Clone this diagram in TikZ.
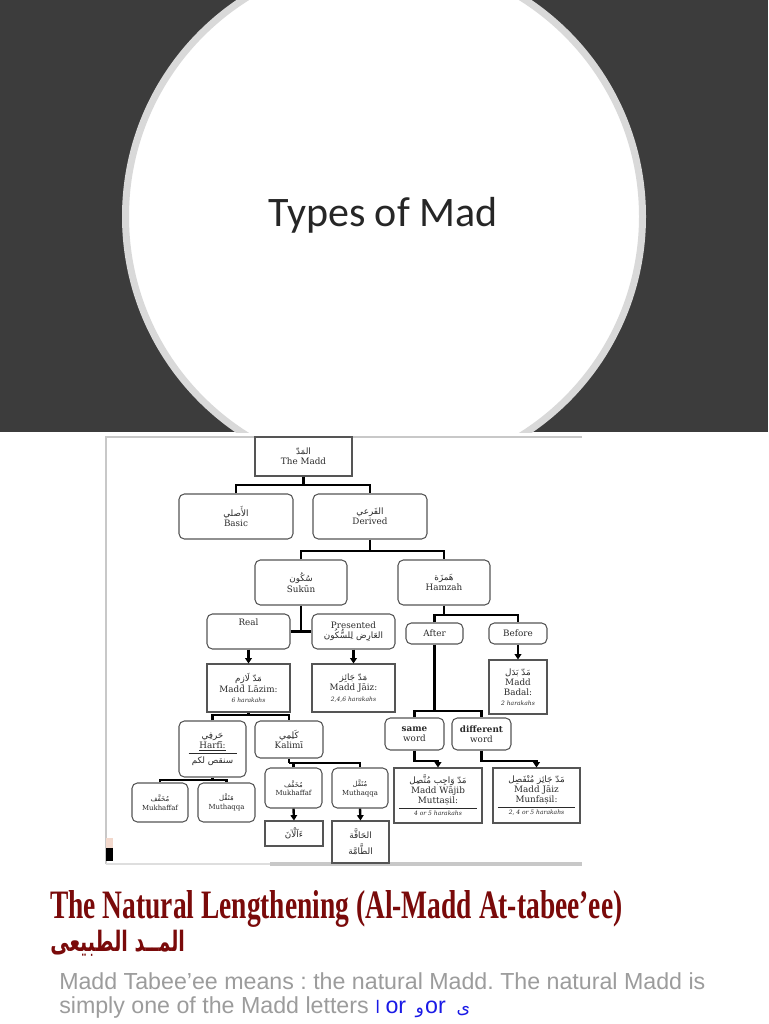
\documentclass[tikz,border=0pt]{standalone}
\usepackage{fontspec}
\usepackage{graphicx}
\usetikzlibrary{arrows.meta,calc}
\TeXXeTstate=1
\newfontfamily\ar[Script=Arabic]{DejaVu Sans}
\newfontfamily\dser{DejaVu Serif}
\newfontfamily\carl{Carlito}
\newfontfamily\lsans{Liberation Sans}
\newfontfamily\tser{Liberation Serif}
\definecolor{bandgray}{HTML}{3C3C3C}
\definecolor{ringgray}{HTML}{D9D9D9}
\definecolor{titlered}{HTML}{7A0A0A}
\definecolor{paragray}{HTML}{9C9C9C}
\definecolor{boxline}{HTML}{555555}
\definecolor{txtgray}{HTML}{2A2A2A}
\definecolor{frame}{HTML}{C8C8C8}
\definecolor{letterblue}{HTML}{1A1AE6}
\definecolor{titleblack}{HTML}{262626}
\definecolor{pinkmark}{HTML}{F2D8CC}
\newcommand{\AR}[1]{{\ar\beginR #1\endR}}
\newcommand{\hk}[1]{{\fontsize{4.5}{5.2}\selectfont\itshape #1}}
\newcommand{\dfont}{\dser\fontsize{6.6}{7.6}\selectfont}
\newcommand{\sfont}{\dser\fontsize{5.2}{6.6}\selectfont}
\tikzset{
  bw/.style={minimum width=#1*0.75pt},
  bh/.style={minimum height=#1*0.75pt},
  rbox/.style={draw=boxline, line width=0.8pt, rounded corners=4pt, fill=white,
    inner sep=0pt, align=center, font=\dfont, text=txtgray},
  sbox/.style={rbox, rounded corners=0pt},
  conn/.style={line width=1.8pt, black},
  arr/.style={conn, -{Triangle[length=4pt,width=5pt]}},
}
\begin{document}
\frenchspacing
\begin{tikzpicture}[x=0.75pt,y=-0.75pt]
\useasboundingbox (0,0) rectangle (768,1024);
\fill[white] (0,0) rectangle (768,1024);
% top band with circle
\begin{scope}
\clip (0,0) rectangle (768,432);
\fill[bandgray] (0,0) rectangle (768,432);
\draw[ringgray, line width=5.25pt, fill=white] (384,216.5) circle (258.5);
\end{scope}
\node[anchor=base, inner sep=0pt, text=titleblack, font=\carl\fontsize{31.5}{36}\selectfont] (typ) at (383,226.7) {Types of Mad};
% diagram frame
\draw[frame, line width=1pt] (106,864) -- (106,437) -- (582,437);
\draw[frame!60, line width=2pt] (106,864) -- (270,864);
\draw[frame, line width=2.5pt] (270,864) -- (582,864);
\fill[pinkmark] (106,838) rectangle (113,848);
\fill[black] (106,848) rectangle (113,861);
% nodes
\node[sbox,bw=97,bh=39] (madd) at (303.5,456.5) {\AR{المَدّ}\\The Madd};
\node[rbox,bw=114,bh=45] (basic) at (236,516.5) {\AR{الأَصلي}\\Basic};
\node[rbox,bw=114,bh=45] (derived) at (370,516.5) {\AR{الفَرعي}\\Derived};
\node[rbox,bw=92,bh=45] (sukun) at (301,582.5) {\AR{سُكُون}\\Sukūn};
\node[rbox,bw=92,bh=45] (hamzah) at (444,582.5) {\AR{هَمزَة}\\Hamzah};
\node[rbox,bw=83,bh=35,text depth=14pt] (real) at (248.5,631.5) {Real};
\node[rbox,bw=83,bh=35] (presented) at (353.5,631.5) {Presented\\\AR{العَارِض لِلسُّكُون}};
\node[rbox,bw=57,bh=21] (after) at (434.5,633.5) {After};
\node[rbox,bw=58,bh=21] (before) at (518,633.5) {Before};
\node[sbox,bw=83,bh=48] (lazim) at (248.5,688) {\AR{مَدّ لَازِم}\\Madd Lāzim:\\\hk{6 harakahs}};
\node[sbox,bw=83,bh=48] (jaiz) at (353.5,688) {\AR{مَدّ جَائِز}\\Madd Jāiz:\\\hk{2,4,6 harakahs}};
\node[sbox,bw=58,bh=54] (badal) at (518,687) {\AR{مَدّ بَدَل}\\Madd\\Badal:\\\hk{2 harakahs}};
\node[rbox,bw=67,bh=56] (harfi) at (212.5,749) {\AR{حَرفِي}\\\underline{Harfī:}\\[-4pt]\rule{36pt}{0.4pt}\\\AR{سنقص لكم}};
\node[rbox,bw=68,bh=37] (kalimi) at (289,739.5) {\AR{كَلِمِي}\\Kalimī};
\node[rbox,bw=56,bh=39,font=\sfont] (mukha) at (160,802.5) {\AR{مُخَفَّف}\\Mukhaffaf};
\node[rbox,bw=57,bh=39,font=\sfont] (mutha) at (226.5,802.5) {\AR{مُثَقَّل}\\Muthaqqa};
\node[rbox,bw=57,bh=40,font=\sfont] (mukhb) at (293.5,788) {\AR{مُخَفَّف}\\Mukhaffaf};
\node[rbox,bw=56,bh=40,font=\sfont] (muthb) at (360,788) {\AR{مُثَقَّل}\\Muthaqqa};
\node[sbox,bw=58,bh=25] (aan) at (294,833.5) {\AR{ءَآلْآنَ}};
\node[sbox,bw=57,bh=42] (haqqa) at (360.5,842) {\AR{الحَاقَّة}\\[3pt]\AR{الطَّامَّة}};
\node[rbox,bw=59,bh=32] (same) at (414.5,734) {\textbf{same}\\word};
\node[rbox,bw=59,bh=32] (diff) at (481.5,734) {\textbf{different}\\word};
\node[sbox,bw=88,bh=55] (wajib) at (438,795.5) {\AR{مَدّ وَاجِب مُتَّصِل}\\Madd Wājib\\Muttaṣil:\\[-4pt]\rule{58pt}{0.4pt}\\[-2pt]\hk{4 or 5 harakahs}};
\node[sbox,bw=87,bh=55] (munf) at (536.5,795.5) {\AR{مَدّ جَائِز مُنْفَصِل}\\Madd Jāiz\\Munfaṣil:\\[-4pt]\rule{58pt}{0.4pt}\\[-2pt]\hk{2, 4 or 5 harakahs}};
% connectors
\coordinate (j1) at (303.5,485);
\draw[conn] (madd.south) -- (j1);
\draw[conn] (basic.north) |- (j1) -| (derived.north);
\coordinate (j2) at (370,551);
\draw[conn] (derived.south) -- (j2);
\draw[conn] (sukun.north) |- (j2) -| (hamzah.north);
\draw[conn] (sukun.south) -- (sukun.south |- real.east);
\draw[conn] (real.east) -- (presented.west);
\coordinate (j4) at (444,615);
\draw[conn] (hamzah.south) -- (j4);
\draw[conn] (after.north) |- (j4) -| (before.north);
\draw[arr] (real.south) -- (lazim.north);
\draw[arr] (presented.south) -- (jaiz.north);
\draw[arr] (before.south) -- (badal.north);
\coordinate (j5) at (248.5,715);
\draw[conn] (lazim.south) -- (j5);
\draw[conn] (harfi.north) |- (j5) -| (kalimi.north);
\coordinate (j6) at (212.5,780);
\draw[conn] (harfi.south) -- (j6);
\draw[conn] (mukha.north) |- (j6) -| (mutha.north);
\coordinate (j7) at (289,763);
\draw[conn] (kalimi.south) -- (j7);
\draw[conn] (mukhb.north) |- (j7) -| (muthb.north);
\draw[arr] (mukhb.south) -- (aan.north);
\draw[arr] (muthb.south) -- (haqqa.north);
\coordinate (j8) at (434.5,711);
\draw[conn] (after.south) -- (j8);
\draw[conn] (same.north) |- (j8) -| (diff.north);
\coordinate (jw) at (438,761);
\draw[arr] (same.south) |- (jw) -- (wajib.north);
\coordinate (jm) at (536.5,761);
\draw[arr] (diff.south) |- (jm) -- (munf.north);
% bottom texts
\node[anchor=base west, inner sep=0pt, text=titlered] (ttl) at (50,918) {\resizebox{429pt}{21pt}{\tser\bfseries The Natural Lengthening (Al-Madd At-tabee’ee)}};
\node[anchor=base west, inner sep=0pt, text=titlered] (artl) at (50,951) {\resizebox{101pt}{16pt}{\ar\bfseries\beginR المــد الطبيعى\endR}};
\node[anchor=base west, inner sep=0pt, text=paragray, font=\lsans\fontsize{17.4}{21}\selectfont] (p1) at (59,989) {Madd Tabee’ee means : the natural Madd. The natural Madd is};
\node[anchor=base west, inner sep=0pt, text=paragray, font=\lsans\fontsize{17.4}{21}\selectfont] (p2) at (59,1013) {simply one of the Madd letters\hspace{5pt}\textcolor{letterblue}{{\ar\fontsize{13}{16}\selectfont ا}\hspace{4pt}or\hspace{7pt}{\ar\fontsize{13}{16}\selectfont و}\hspace{1pt}or\hspace{8pt}{\ar\fontsize{13}{16}\selectfont ى}}};
\end{tikzpicture}
\end{document}
